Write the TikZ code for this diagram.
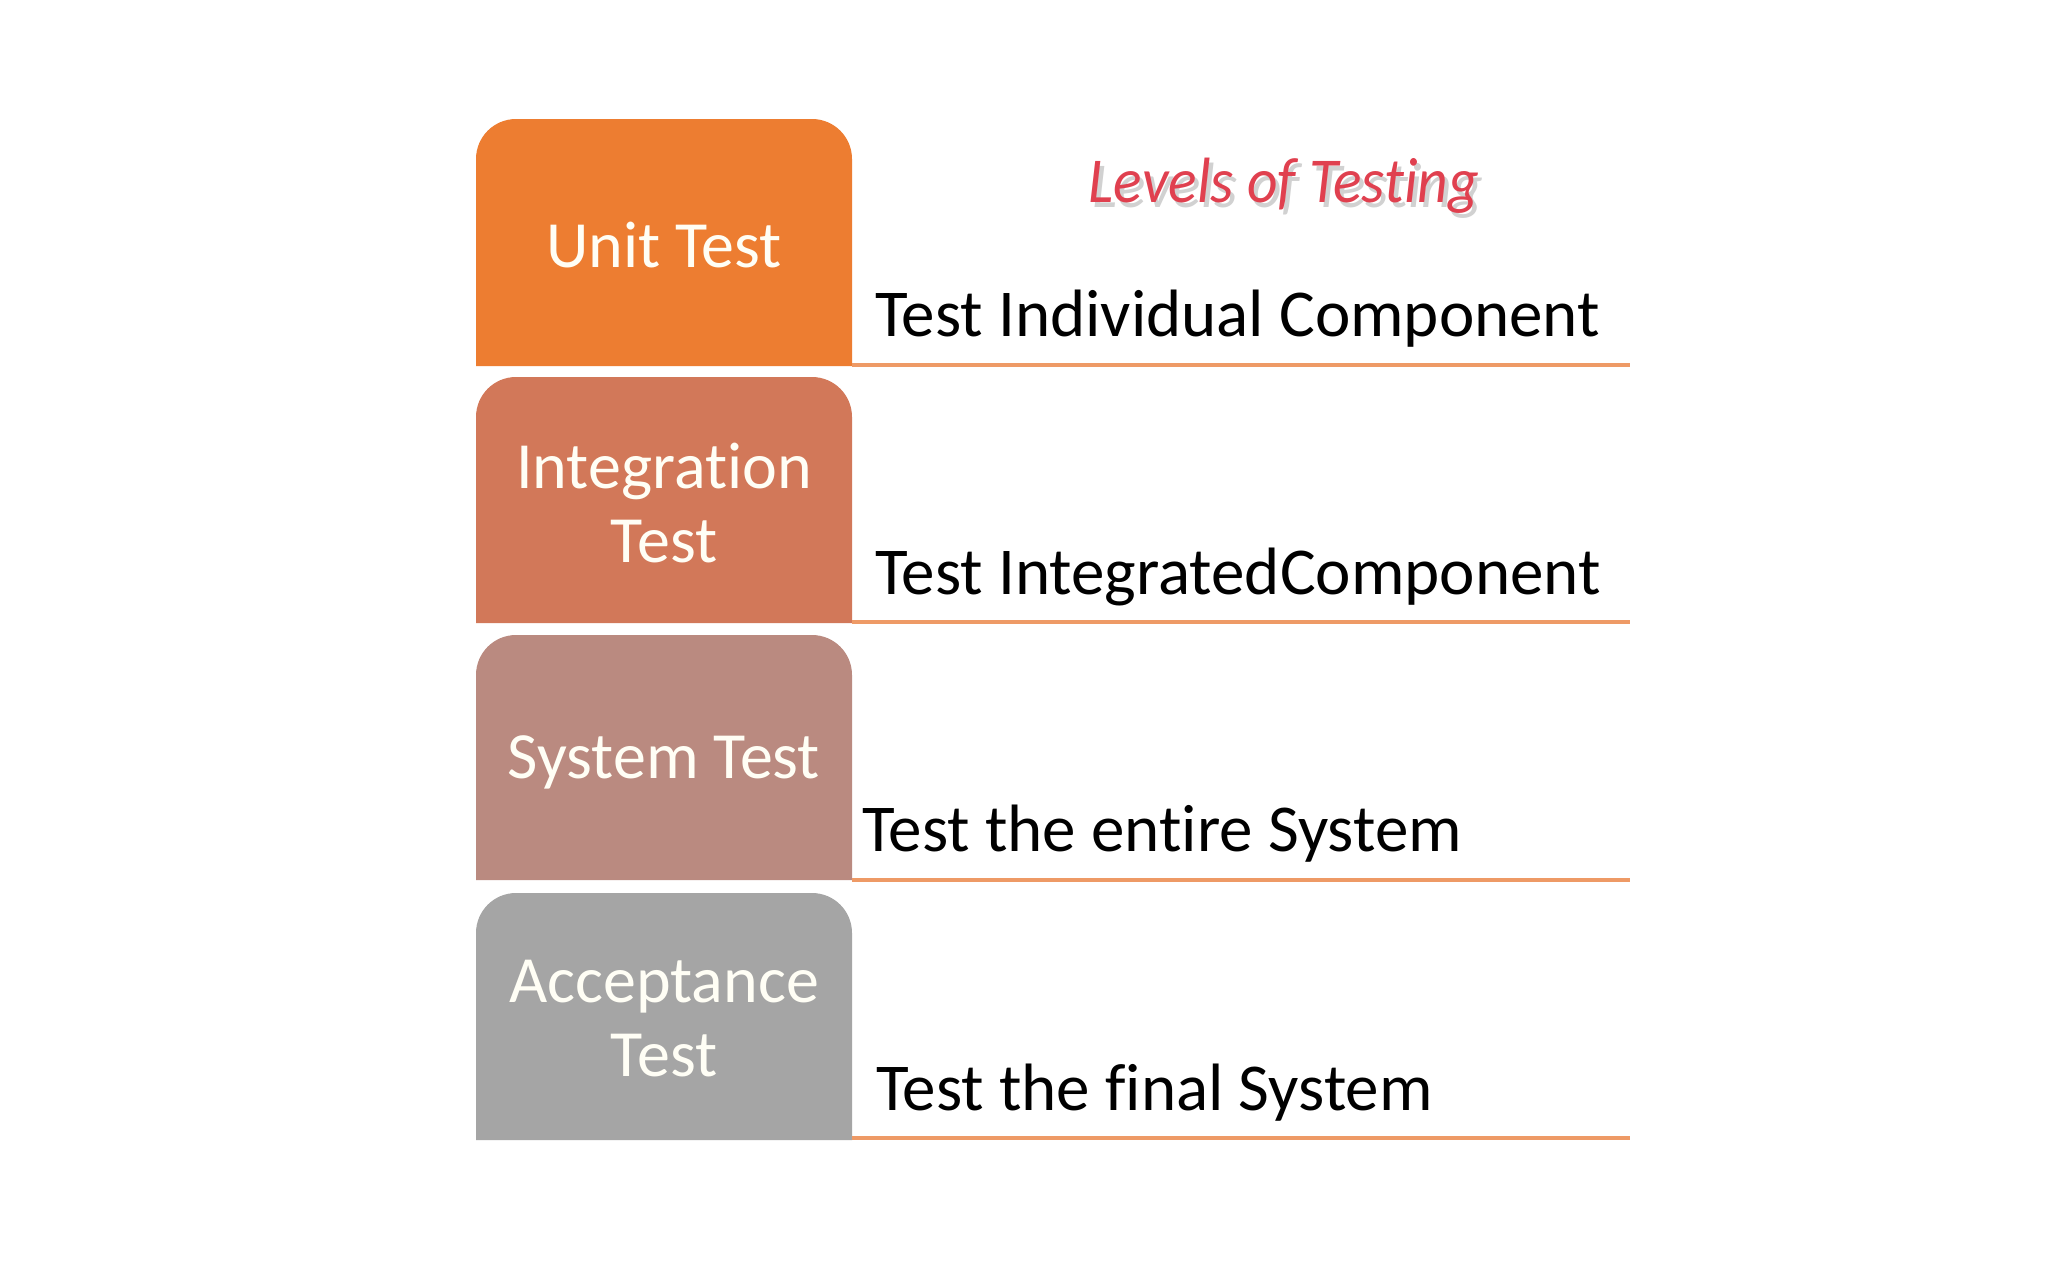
\documentclass[tikz,border=0pt]{standalone}
\usepackage{fontspec}
\setmainfont{Carlito}[Ligatures={NoCommon}]
\definecolor{cUnit}{HTML}{ED7D31}
\definecolor{cInt}{HTML}{D27859}
\definecolor{cSys}{HTML}{BA8A80}
\definecolor{cAcc}{HTML}{A5A5A5}
\definecolor{cLine}{HTML}{EE9A66}
\definecolor{cTitle}{HTML}{E0404F}
\newcommand\tabshape[3]{% color, top y, bottom y
  \fill[#1] (476,#3) -- (476,#2+40) arc(180:270:40) -- (812,#2) arc(270:360:40) -- (852,#3) -- cycle;}
\tikzset{
  boxtext/.style={text=white!96!yellow, align=center, font=\fontsize{66}{74}\selectfont},
  desc/.style={anchor=base west, inner sep=0pt, font=\fontsize{67}{74}\selectfont},
  sepline/.style={cLine, line width=4pt},
  titletext/.style={font=\fontsize{64}{64}\selectfont\itshape, xscale=0.93},
}
\begin{document}
\begin{tikzpicture}[x=1pt,y=-1pt]
\useasboundingbox (0,0) rectangle (2048,1280);
\fill[white] (0,0) rectangle (2048,1280);
% tabs
\tabshape{cUnit}{119}{366}
\tabshape{cInt}{377}{623}
\tabshape{cSys}{635}{880}
\tabshape{cAcc}{893}{1140}
\node[boxtext] (unit) at (664,245) {Unit Test};
\node[boxtext] (integ) at (664,503) {Integration\\Test};
\node[boxtext] (sys) at (664,762) {System Test};
\node[boxtext] (acc) at (664,1019) {Acceptance\\Test};
% title with soft shadow
\node[titletext, text=black!18] (titleshadow) at (1288,191) {Levels of Testing};
\node[titletext, text=cTitle] (title) at (1284,186) {Levels of Testing};
% descriptions
\node[desc] (d1) at (875,336) {Test Individual Component};
\node[desc] (d2) at (875,594) {Test IntegratedComponent};
\node[desc] (d3) at (862,851) {Test the entire System};
\node[desc] (d4) at (876,1110) {Test the final System};
% separator lines
\coordinate (s1) at (852,365); \coordinate (e1) at (1630,365);
\coordinate (s2) at (852,622); \coordinate (e2) at (1630,622);
\coordinate (s3) at (852,880); \coordinate (e3) at (1630,880);
\coordinate (s4) at (852,1138); \coordinate (e4) at (1630,1138);
\draw[sepline] (s1) -- (e1);
\draw[sepline] (s2) -- (e2);
\draw[sepline] (s3) -- (e3);
\draw[sepline] (s4) -- (e4);
\end{tikzpicture}
\end{document}
